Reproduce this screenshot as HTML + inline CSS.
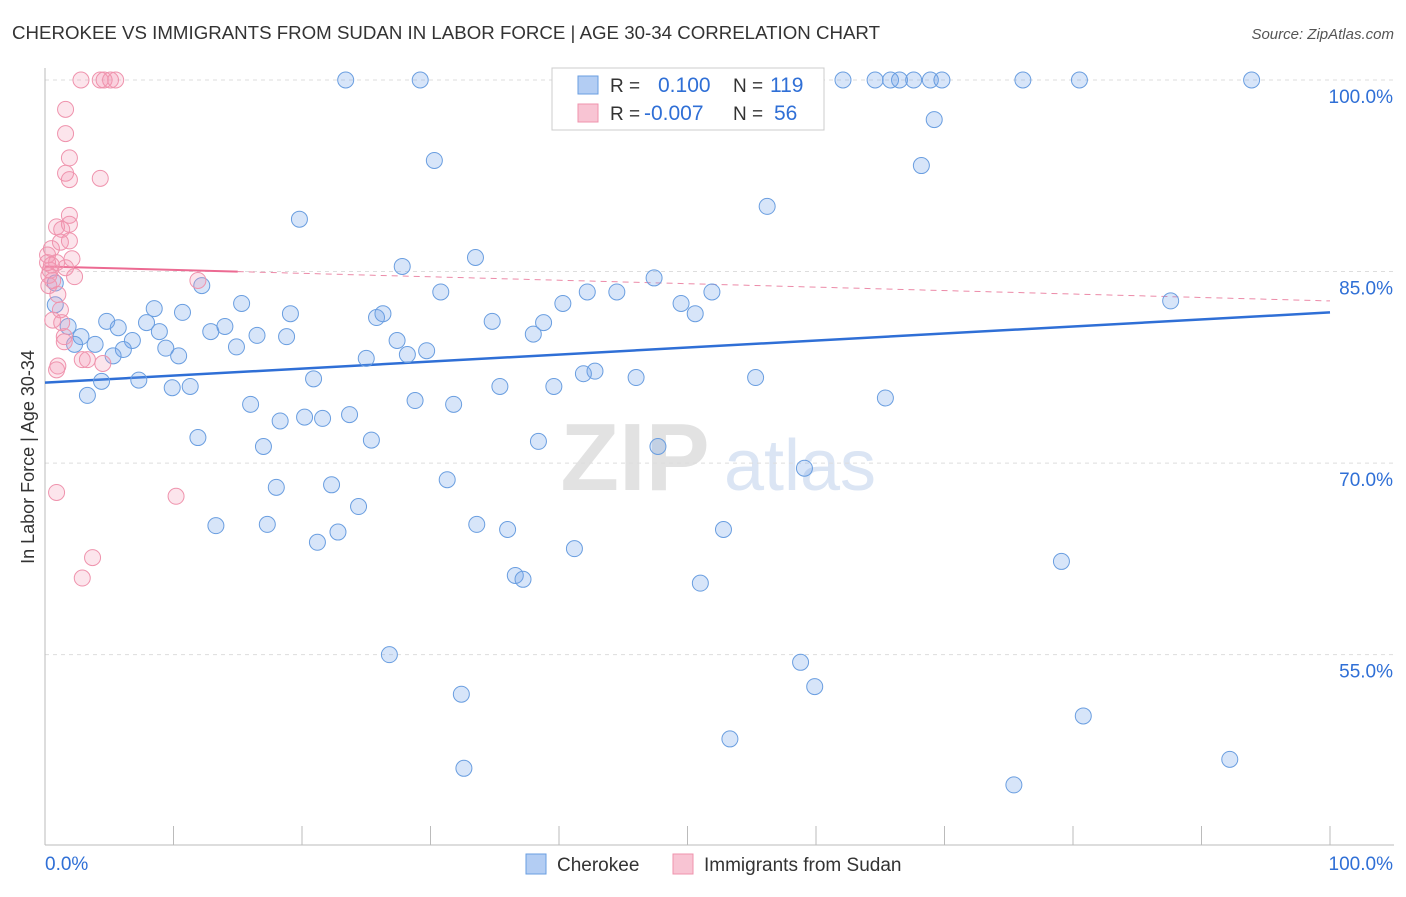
<!DOCTYPE html>
<html><head><meta charset="utf-8"><style>
body{margin:0;background:#fff;font-family:"Liberation Sans",sans-serif;}
svg text{font-family:"Liberation Sans",sans-serif;}
</style></head><body>
<svg id="chart" width="1406" height="892" xmlns="http://www.w3.org/2000/svg">
<text x="12" y="39" font-size="18" fill="#333" textLength="868" lengthAdjust="spacingAndGlyphs">CHEROKEE VS IMMIGRANTS FROM SUDAN IN LABOR FORCE | AGE 30-34 CORRELATION CHART</text>
<text x="1394" y="39" font-size="15" fill="#555" text-anchor="end" font-style="italic">Source: ZipAtlas.com</text>
<g><text x="635" y="490" font-size="96" fill="#e2e2e2" text-anchor="middle" font-family="Liberation Serif" font-weight="bold">ZIP</text><text x="800" y="490" font-size="72" fill="#dbe5f4" text-anchor="middle">atlas</text></g>
<g id="grid"></g>
<g id="axes"></g>
<g id="lines"></g>
<g id="points"></g>
<text transform="translate(34,457) rotate(-90)" font-size="18" fill="#333" text-anchor="middle">In Labor Force | Age 30-34</text>
<g>
<rect x="552" y="68" width="272" height="62" fill="#fff" stroke="#ccc"/>
<rect x="578" y="76" width="20" height="18" fill="#b3cdf3" stroke="#6a9ee0"/>
<rect x="578" y="104" width="20" height="18" fill="#f8c4d3" stroke="#ef93ad"/>
<text x="610" y="92" font-size="19" fill="#333">R =</text><text x="658" y="92" font-size="21" fill="#2f6fd6">0.100</text>
<text x="733" y="92" font-size="19" fill="#333">N =</text><text x="770" y="92" font-size="21" fill="#2f6fd6">119</text>
<text x="610" y="120" font-size="19" fill="#333">R =</text><text x="644" y="120" font-size="21" fill="#2f6fd6">-0.007</text>
<text x="733" y="120" font-size="19" fill="#333">N =</text><text x="774" y="120" font-size="21" fill="#2f6fd6">56</text>
</g>
<g>
<rect x="526" y="854" width="20" height="20" fill="#b3cdf3" stroke="#6a9ee0"/>
<text x="557" y="871" font-size="19" fill="#333">Cherokee</text>
<rect x="673" y="854" width="20" height="20" fill="#f8c4d3" stroke="#ef93ad"/>
<text x="704" y="871" font-size="19" fill="#333">Immigrants from Sudan</text>
</g>
</svg>
<script>
const blueX=[23.4,29.2,62.1,64.6,65.8,66.5,67.6,68.9,69.8,76.1,80.5,93.9,69.2,30.3,68.2,56.2,19.8,33.5,27.8,47.4,12.2,30.8,42.2,44.5,51.9,87.6,15.3,8.5,40.3,49.5,10.7,19.1,25.8,26.3,4.8,7.9,34.8,38.8,50.6,0.8,1.8,5.7,8.9,12.9,14.0,38.0,2.8,16.5,18.8,6.8,2.3,3.9,27.4,9.4,14.9,6.1,29.7,28.2,5.3,10.4,25.0,42.8,41.9,20.9,4.4,7.3,46.0,55.3,9.9,11.3,35.4,39.6,3.3,65.4,28.8,31.8,16.0,23.7,20.2,21.6,18.3,11.9,25.4,38.4,17.0,47.7,59.1,31.3,22.3,18.0,24.4,13.3,33.6,36.0,17.3,52.8,22.8,21.2,41.2,79.1,36.6,37.2,51.0,26.8,58.8,59.9,32.4,80.8,53.3,92.2,32.6,75.4,0.8];
const blueY=[100,100,100,100,100,100,100,100,100,100,100,100,96.9,93.7,93.3,90.1,89.1,86.1,85.4,84.5,83.9,83.4,83.4,83.4,83.4,82.7,82.5,82.1,82.5,82.5,81.8,81.7,81.4,81.7,81.1,81.0,81.1,81.0,81.7,82.4,80.7,80.6,80.3,80.3,80.7,80.1,79.9,80.0,79.9,79.6,79.3,79.3,79.6,79.0,79.1,78.9,78.8,78.5,78.4,78.4,78.2,77.2,77.0,76.6,76.4,76.5,76.7,76.7,75.9,76.0,76.0,76.0,75.3,75.1,74.9,74.6,74.6,73.8,73.6,73.5,73.3,72.0,71.8,71.7,71.3,71.3,69.6,68.7,68.3,68.1,66.6,65.1,65.2,64.8,65.2,64.8,64.6,63.8,63.3,62.3,61.2,60.9,60.6,55.0,54.4,52.5,51.9,50.2,48.4,46.8,46.1,44.8,84.1];
const pinkX=[2.8,4.3,4.6,5.1,5.5,1.6,1.6,1.9,1.6,1.9,4.3,1.9,0.9,1.9,1.3,1.2,1.9,0.5,0.2,0.9,2.1,1.6,0.4,0.3,2.3,0.6,11.9,0.3,1.0,1.2,0.6,1.3,1.5,1.5,2.9,3.3,4.5,1.0,0.9,0.9,10.2,3.7,2.9,0.2,0.5];
const pinkY=[100,100,100,100,100,97.7,95.8,93.9,92.7,92.2,92.3,89.4,88.5,88.7,88.3,87.3,87.4,86.8,86.3,85.7,86.0,85.3,85.1,84.7,84.6,84.3,84.3,83.9,83.2,82.0,81.2,81.0,79.9,79.5,78.1,78.1,77.8,77.6,77.3,67.7,67.4,62.6,61.0,85.7,85.5];
const blueTrend=[76.3,81.8];
const pinkTrend=[85.4,82.7];
const yTicks=[100,85,70,55];
const NS='http://www.w3.org/2000/svg';
const X=v=>45+v*12.85, Y=v=>80+(100-v)*12.77;
function mk(parent,tag,attrs){const e=document.createElementNS(NS,tag);for(const k in attrs)e.setAttribute(k,attrs[k]);document.getElementById(parent).appendChild(e);return e;}
yTicks.forEach(t=>{
 const l=mk('grid','line',{x1:45,x2:1394,y1:Y(t),y2:Y(t),stroke:'#ddd','stroke-dasharray':'4,4'});
 
 
 const tx=mk('grid','text',{x:1393,y:Y(t)+23,'font-size':19,fill:'#2f6fd6','text-anchor':'end'});tx.textContent=t.toFixed(1)+'%';
 
 
});
const ax=mk('axes','line',{x1:45,x2:45,y1:68,y2:845,stroke:'#bbb'});


const bx=mk('axes','line',{x1:45,x2:1394,y1:845,y2:845,stroke:'#bbb'});


for(let i=0;i<=10;i++){const t=mk('axes','line',{x1:X(i*10),x2:X(i*10),y1:826,y2:845,stroke:'#bbb'});
 
 }
[[0,'start','0.0%'],[100,'end','100.0%']].forEach(([v,a,s])=>{const t=mk('axes','text',{x:v?1393:45,y:870,'font-size':19,fill:'#2f6fd6','text-anchor':a});t.textContent=s;
 
 });
blueX.forEach((v,i)=>{const c=mk('points','circle',{cx:X(v),cy:Y(blueY[i]),r:8,fill:'rgba(110,160,235,0.28)',stroke:'#6a9ee0','stroke-width':1});
 
 });
pinkX.forEach((v,i)=>{const c=mk('points','circle',{cx:X(v),cy:Y(pinkY[i]),r:8,fill:'rgba(245,150,180,0.25)',stroke:'#ef93ad','stroke-width':1});
 
 });
const bl=mk('lines','line',{x1:X(0),y1:Y(blueTrend[0]),x2:X(100),y2:Y(blueTrend[1]),stroke:'#2f6fd6','stroke-width':2.5});


const pv=x=>pinkTrend[0]+(pinkTrend[1]-pinkTrend[0])*x/100;
const ps=mk('lines','line',{x1:X(0),y1:Y(pv(0)),x2:X(15),y2:Y(pv(15)),stroke:'#ec6a92','stroke-width':2});


const pd=mk('lines','line',{x1:X(15),y1:Y(pv(15)),x2:X(100),y2:Y(pv(100)),stroke:'#ec8aa8','stroke-width':1,'stroke-dasharray':'6,5'});


</script>
</body></html>
